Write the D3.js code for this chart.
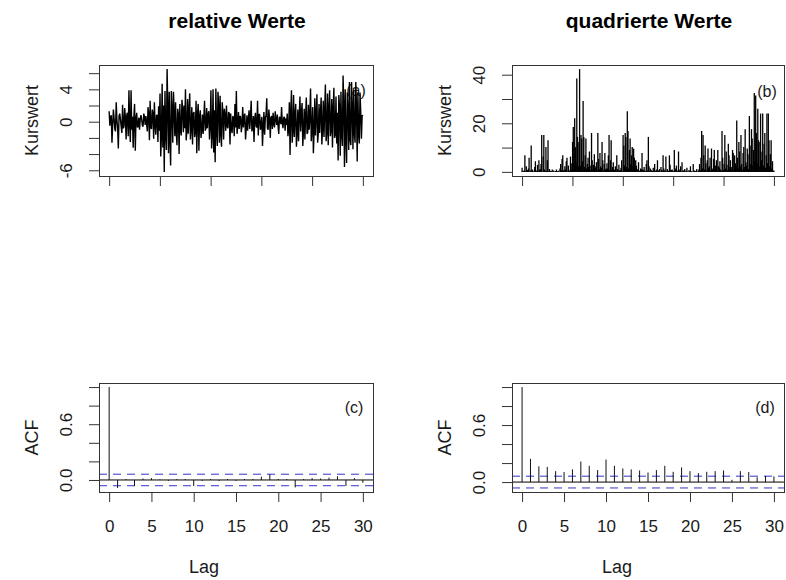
<!DOCTYPE html>
<html>
<head>
<meta charset="utf-8">
<script src="https://cdn.jsdelivr.net/npm/d3@7"></script>
<style>
  body { margin: 0; background: #fff; }
  text { font-family: "Liberation Sans", Arial, sans-serif; }
</style>
</head>
<body>
<svg id="chart" width="786" height="580"></svg>
<script>
// relative daily changes (left to right)
const relValues = [
  1.3,-0.5,0.6,0.8,-2.6,-0.4,1.5,0.4,-0.9,-1.2,2.4,0.2,-0.8,-3.3,0.7,1.0,0.3,-0.6,
  -1.4,2.1,-0.8,-0.6,1.7,0.5,-2.2,0.9,1.1,-1.8,3.9,-0.3,-2.5,3.9,-1.0,0.6,-3.2,0.6,
  2.2,-3.6,0.4,1.1,-0.7,-0.6,0.5,-1.0,0.3,0.8,0.3,-0.5,-0.6,1.0,0.6,-0.4,0.7,-0.2,
  -1.2,1.8,0.9,-2.3,2.6,-0.7,-0.9,1.5,1.0,-2.1,2.4,-0.4,-1.6,0.8,0.8,-2.5,1.9,-1.1,
  3.5,-4.3,-1.8,4.7,-3.2,2.0,-6.2,3.8,-1.5,-3.5,6.5,1.6,-3.9,3.7,-2.1,-5.4,3.8,1.4,
  -2.6,3.7,1.2,-1.8,2.4,-1.4,-2.9,1.6,0.9,-4.0,2.2,-1.0,-1.7,2.7,1.5,-1.3,2.0,-0.8,
  4.0,-2.3,-1.1,2.8,-1.5,1.3,3.5,-2.2,-0.8,1.8,-2.8,1.0,1.2,-1.9,-1.2,2.6,-3.9,0.9,
  2.2,-3.6,0.7,1.4,-2.0,-1.0,0.9,-1.5,0.5,2.6,-1.1,-0.8,1.7,-0.8,0.9,1.3,-2.2,-0.4,
  3.9,-3.3,-1.6,4.0,-3.8,1.4,-5.0,4.1,-1.2,-3.0,3.7,1.8,-2.6,3.2,-1.5,-3.1,2.4,1.1,
  -2.2,1.6,0.8,-1.1,2.0,-0.6,-0.8,1.2,1.0,-2.8,1.0,-0.9,-1.4,0.7,0.5,-1.8,2.2,-0.7,
  3.8,-1.5,-0.5,1.2,-0.9,0.7,0.6,-1.3,-0.4,1.8,-0.7,0.6,1.0,-2.2,-0.8,0.8,-1.1,0.3,
  1.4,-0.9,0.6,2.6,-1.2,-0.8,0.7,-2.5,0.4,1.1,-0.6,-0.7,2.6,-1.7,0.9,0.9,-1.0,-0.5,
  0.6,-3.0,-0.6,1.2,-1.6,0.5,0.8,2.9,-0.8,-1.0,1.5,0.4,-2.0,0.5,0.7,-0.9,1.1,-0.3,
  -0.7,1.3,0.3,-0.4,0.9,-0.5,-1.5,0.6,0.4,-0.3,1.8,-0.2,-0.8,0.5,0.6,-1.1,0.4,-0.4,
  1.0,-1.8,-0.9,2.4,-4.1,1.2,3.9,-2.6,-1.0,3.3,-1.9,0.8,2.2,-3.1,-1.3,1.5,-2.4,0.7,
  3.1,-1.2,1.0,2.3,-3.0,-1.1,1.6,-2.2,0.8,3.0,-1.5,-1.3,2.1,-1.0,0.6,4.1,-2.4,-0.9,
  1.8,-3.9,-1.2,2.9,-1.7,0.9,3.4,-2.6,-1.4,2.2,-1.4,1.1,3.0,-2.8,-0.7,2.6,-1.9,1.3,
  4.6,-2.4,-1.3,3.5,-2.9,1.5,3.9,-1.8,-1.0,2.8,-3.2,1.4,4.2,-2.0,-1.6,3.1,-2.7,1.1,
  -4.8,3.3,1.8,-4.2,3.7,-1.6,-3.0,5.7,2.1,-5.6,4.0,-1.9,-5.1,3.6,1.5,-3.5,4.9,-2.2,
  -2.9,4.9,1.6,-3.4,4.0,-1.3,-2.6,4.9,1.9,-4.9,3.6,-1.5,-2.7,3.6,1.2,-2.1,0.8,0.7
];

// squared values (panel b)
const sqValues = [
  1.7,0.3,0.4,0.6,6.8,0.2,2.3,0.2,0.8,1.4,5.8,0.0,0.6,10.9,0.5,1.0,0.1,0.4,
  2.0,4.4,0.6,0.4,2.9,0.3,4.8,0.8,1.2,3.2,15.2,0.1,6.3,15.2,1.0,0.4,10.2,0.4,
  4.8,13.0,0.2,1.2,0.5,0.4,0.3,1.0,0.1,0.6,0.1,0.3,0.4,1.0,0.4,0.2,0.5,0.0,
  1.4,3.2,0.8,5.3,6.8,0.5,0.8,2.3,1.0,4.4,5.8,0.2,2.6,0.6,0.6,6.3,3.6,1.2,
  12.3,18.5,3.2,22.1,10.2,4.0,38.4,14.4,2.3,12.3,42.3,2.6,15.2,13.7,4.4,29.2,14.4,2.0,
  6.8,13.7,1.4,3.2,5.8,2.0,8.4,2.6,0.8,16.0,4.8,1.0,2.9,7.3,2.3,1.7,4.0,0.6,
  16.0,5.3,1.2,7.8,2.3,1.7,12.3,4.8,0.6,3.2,7.8,1.0,1.4,3.6,1.4,6.8,15.2,0.8,
  4.8,13.0,0.5,2.0,4.0,1.0,0.8,2.3,0.3,6.8,1.2,0.6,2.9,0.6,0.8,1.7,4.8,0.2,
  15.2,10.9,2.6,16.0,14.4,2.0,25.0,16.8,1.4,9.0,13.7,3.2,6.8,10.2,2.3,9.6,5.8,1.2,
  4.8,2.6,0.6,1.2,4.0,0.4,0.6,1.4,1.0,7.8,1.0,0.8,2.0,0.5,0.3,3.2,4.8,0.5,
  14.4,2.3,0.3,1.4,0.8,0.5,0.4,1.7,0.2,3.2,0.5,0.4,1.0,4.8,0.6,0.6,1.2,0.1,
  2.0,0.8,0.4,6.8,1.4,0.6,0.5,6.3,0.2,1.2,0.4,0.5,6.8,2.9,0.8,0.8,1.0,0.3,
  0.4,9.0,0.4,1.4,2.6,0.3,0.6,8.4,0.6,1.0,2.3,0.2,4.0,0.3,0.5,0.8,1.2,0.1,
  0.5,1.7,0.1,0.2,0.8,0.3,2.3,0.4,0.2,0.1,3.2,0.0,0.6,0.3,0.4,1.2,0.2,0.2,
  1.0,3.2,0.8,5.8,16.8,1.4,15.2,6.8,1.0,10.9,3.6,0.6,4.8,9.6,1.7,2.3,5.8,0.5,
  9.6,1.4,1.0,5.3,9.0,1.2,2.6,4.8,0.6,9.0,2.3,1.7,4.4,1.0,0.4,16.8,5.8,0.8,
  3.2,15.2,1.4,8.4,2.9,0.8,11.6,6.8,2.0,4.8,2.0,1.2,9.0,7.8,0.5,6.8,3.6,1.7,
  21.2,5.8,1.7,12.3,8.4,2.3,15.2,3.2,1.0,7.8,10.2,2.0,17.6,4.0,2.6,9.6,7.3,1.2,
  23.0,10.9,3.2,17.6,13.7,2.6,9.0,32.5,4.4,31.4,16.0,3.6,26.0,13.0,2.3,12.3,24.0,4.8,
  8.4,24.0,2.6,11.6,16.0,1.7,6.8,24.0,3.6,24.0,13.0,2.3,7.3,13.0,1.4,4.4,0.6,0.5
];

// autocorrelations, lag 0..30
const lags = [0,1,2,3,4,5,6,7,8,9,10,11,12,13,14,15,16,17,18,19,20,21,22,23,24,25,26,27,28,29,30];
const acfRel = [1,-0.086,0.01,-0.065,0.015,0.02,0.005,-0.01,0.01,0.01,-0.065,-0.01,0.01,-0.01,0.01,-0.01,
  0.01,0.01,0.035,0.062,0.01,0.01,-0.08,0.01,0.02,0.015,0.025,0.04,-0.065,0.02,-0.03];
const acfSq = [1,0.244,0.166,0.16,0.115,0.105,0.133,0.216,0.171,0.126,0.237,0.171,0.143,0.133,0.122,0.10,
  0.126,0.171,0.108,0.154,0.115,0.094,0.108,0.115,0.122,0.024,0.115,0.105,0.05,0.065,0.06];
const confBound = 0.062;

// ticks and labels
const timeTicks = [0, 0.2, 0.4, 0.6, 0.8, 1];
const relTicks = [-6, -4, -2, 0, 2, 4, 6];
const relLabels = [-6, 0, 4];
const sqTicks = [0, 10, 20, 30, 40];
const sqLabels = [0, 20, 40];
const acfTicks = [0, 0.2, 0.4, 0.6, 0.8, 1];
const acfLabels = [0, 0.6];
const lagTicks = [0, 5, 10, 15, 20, 25, 30];

const svg = d3.select("#chart");
svg.append("rect").attr("width", 786).attr("height", 580).attr("fill", "#fff");

const FONT = 17;
const INK = "#1a1a1a";

// R style: stretch the data range by 4% on both sides
function pad(ext) {
  var d = (ext[1] - ext[0]) * 0.04;
  return [ext[0] - d, ext[1] + d];
}

const boxes = {
  a: {x0: 99, x1: 373, y0: 65, y1: 176},
  b: {x0: 512, x1: 784, y0: 65, y1: 176},
  c: {x0: 99, x1: 373, y0: 383, y1: 492},
  d: {x0: 512, x1: 784, y0: 383, y1: 492}
};

function frame(box, x, y, o) {
  var g = svg.append("g");

  // y axis, labels turned like R's las = 0
  var ya = g.append("g")
      .attr("transform", "translate(" + box.x0 + ",0)")
      .call(d3.axisLeft(y).tickValues(o.yTicks).tickSize(10)
        .tickFormat(d => o.yLabels.includes(d) ? o.yFmt(d) : ""));
  ya.select(".domain").remove();
  ya.selectAll("line").attr("stroke", "#333");
  ya.selectAll("text")
      .attr("x", null).attr("dy", null)
      .attr("transform", "translate(-27,0) rotate(-90)")
      .attr("text-anchor", "middle")
      .attr("fill", INK)
      .attr("font-size", FONT);

  // x axis
  var xa = g.append("g")
      .attr("transform", "translate(0," + box.y1 + ")")
      .call(d3.axisBottom(x).tickValues(o.xTicks).tickSize(10).tickPadding(18)
        .tickFormat(o.xFmt));
  xa.select(".domain").remove();
  xa.selectAll("line").attr("stroke", "#333");
  xa.selectAll("text").attr("fill", INK).attr("font-size", FONT);

  // y axis title
  g.append("text")
      .attr("transform", "translate(" + (box.x0 - 61) + "," + ((box.y0 + box.y1) / 2) + ") rotate(-90)")
      .attr("text-anchor", "middle")
      .attr("font-size", 18)
      .attr("fill", INK)
      .text(o.ylab);

  return g;
}

function outline(box) {
  svg.append("rect")
      .attr("x", box.x0).attr("y", box.y0)
      .attr("width", box.x1 - box.x0).attr("height", box.y1 - box.y0)
      .attr("fill", "none").attr("stroke", "#333")
      .attr("shape-rendering", "crispEdges");
}

function tag(box, label, dx, dy) {
  svg.append("text")
      .attr("x", box.x1 - dx).attr("y", box.y0 + dy)
      .attr("text-anchor", "middle")
      .attr("font-size", 16)
      .attr("fill", INK)
      .text(label);
}

const n = relValues.length;
const frac = i => i / (n - 1);

// ---------- panel a: relative values ----------
(function () {
  var box = boxes.a;
  var x = d3.scaleLinear().domain(pad([0, 1])).range([box.x0, box.x1]);
  var y = d3.scaleLinear().domain(pad(d3.extent(relValues))).range([box.y1, box.y0]);
  frame(box, x, y, {yTicks: relTicks, yLabels: relLabels, yFmt: d => String(d),
                    xTicks: timeTicks, xFmt: () => "", ylab: "Kurswert"});
  tag(box, "(a)", 17, 31);
  svg.append("path")
      .datum(relValues)
      .attr("fill", "none")
      .attr("stroke", "#000")
      .attr("stroke-width", 1.4)
      .attr("stroke-linejoin", "bevel")
      .attr("d", d3.line().x((d, i) => x(frac(i))).y(d => y(d)));
  outline(box);
})();

// ---------- panel b: squared values (type "h") ----------
(function () {
  var box = boxes.b;
  var m = sqValues.length;
  var x = d3.scaleLinear().domain(pad([0, 1])).range([box.x0, box.x1]);
  var y = d3.scaleLinear().domain(pad([0, d3.max(sqValues)])).range([box.y1, box.y0]);
  frame(box, x, y, {yTicks: sqTicks, yLabels: sqLabels, yFmt: d => String(d),
                    xTicks: timeTicks, xFmt: () => "", ylab: "Kurswert"});
  svg.append("g").selectAll("line")
      .data(sqValues)
      .join("line")
      .attr("x1", (d, i) => x(i / (m - 1))).attr("x2", (d, i) => x(i / (m - 1)))
      .attr("y1", y(0)).attr("y2", d => y(d))
      .attr("stroke", "#000")
      .attr("stroke-width", 1.3);
  tag(box, "(b)", 17, 32);
  outline(box);
})();

// ---------- panels c and d: ACF ----------
function acfPanel(box, values, label) {
  var x = d3.scaleLinear().domain(pad([0, 30])).range([box.x0, box.x1]);
  var ext = d3.extent(values.concat([-confBound, confBound]));
  var y = d3.scaleLinear().domain(pad(ext)).range([box.y1, box.y0]);
  frame(box, x, y, {yTicks: acfTicks, yLabels: acfLabels, yFmt: d3.format(".1f"),
                    xTicks: lagTicks, xFmt: d => String(d), ylab: "ACF"});

  // zero line
  svg.append("line")
      .attr("x1", box.x0).attr("x2", box.x1)
      .attr("y1", y(0)).attr("y2", y(0))
      .attr("stroke", "#000");

  // confidence bounds
  svg.append("g").selectAll("line")
      .data([confBound, -confBound])
      .join("line")
      .attr("x1", box.x0).attr("x2", box.x1)
      .attr("y1", d => y(d)).attr("y2", d => y(d))
      .attr("stroke", "#3333cc")
      .attr("stroke-dasharray", "8,6");

  // spikes
  svg.append("g").selectAll("line")
      .data(lags)
      .join("line")
      .attr("x1", d => x(d)).attr("x2", d => x(d))
      .attr("y1", y(0)).attr("y2", (d, i) => y(values[i]))
      .attr("stroke", "#111");

  tag(box, label, 19, 30);
  outline(box);

  svg.append("text")
      .attr("x", box.x0 + 105).attr("y", 573)
      .attr("text-anchor", "middle")
      .attr("font-size", 18)
      .attr("fill", INK)
      .text("Lag");
}

acfPanel(boxes.c, acfRel, "(c)");
acfPanel(boxes.d, acfSq, "(d)");

// ---------- titles ----------
svg.append("text")
    .attr("x", 237).attr("y", 28)
    .attr("text-anchor", "middle")
    .attr("font-size", 21).attr("font-weight", "bold")
    .attr("fill", "#000")
    .text("relative Werte");
svg.append("text")
    .attr("x", 649).attr("y", 28)
    .attr("text-anchor", "middle")
    .attr("font-size", 21).attr("font-weight", "bold")
    .attr("fill", "#000")
    .text("quadrierte Werte");
</script>
</body>
</html>
